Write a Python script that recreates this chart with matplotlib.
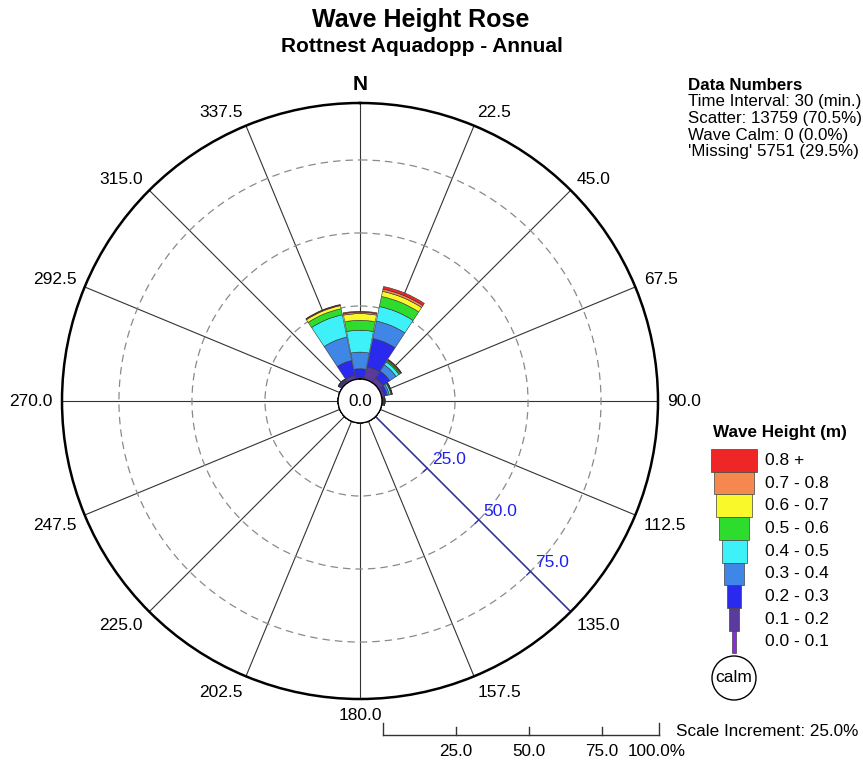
import numpy as np
import matplotlib
matplotlib.use("Agg")
import matplotlib.pyplot as plt
from matplotlib.patches import Rectangle, Circle

plt.rcParams['font.family'] = ['Liberation Sans', 'DejaVu Sans']

# directions (deg, clockwise from north) and wave height classes
directions = np.arange(0, 360, 22.5)
height_labels = ['0.0 - 0.1', '0.1 - 0.2', '0.2 - 0.3', '0.3 - 0.4', '0.4 - 0.5',
                 '0.5 - 0.6', '0.6 - 0.7', '0.7 - 0.8', '0.8 +']
height_colors = ['#8a2be2', '#5b3a9e', '#2a2aee', '#3f86e6', '#3ef0f8',
                 '#2edc2e', '#f8f82a', '#f4884e', '#ee2626']

# frequency (%) per direction for each height class
#            N   22.5  45  67.5  90 112.5 135 157.5 180 202.5 225 247.5 270 292.5 315 337.5
h00_01 = [0.1, 0.1, 0.1, 0.1, 0.1, 0, 0, 0, 0, 0, 0, 0, 0, 0, 0.1, 0.1]
h01_02 = [0.6, 4.4, 1.9, 0.9, 0.3, 0, 0, 0, 0, 0, 0, 0, 0, 0, 0.6, 1.3]
h02_03 = [2.8, 9.8, 2.8, 1.0, 0.3, 0, 0, 0, 0, 0, 0, 0, 0, 0, 0.6, 5.2]
h03_04 = [5.7, 6.1, 2.6, 0.7, 0.2, 0, 0, 0, 0, 0, 0, 0, 0, 0, 0.2, 8.2]
h04_05 = [7.5, 5.1, 1.2, 0.6, 0.1, 0, 0, 0, 0, 0, 0, 0, 0, 0, 0.0, 7.8]
h05_06 = [3.4, 3.5, 0.4, 0.2, 0.0, 0, 0, 0, 0, 0, 0, 0, 0, 0, 0.0, 2.1]
h06_07 = [2.3, 1.8, 0.3, 0.1, 0.0, 0, 0, 0, 0, 0, 0, 0, 0, 0, 0.0, 1.1]
h07_08 = [0.5, 0.8, 0.2, 0.1, 0.0, 0, 0, 0, 0, 0, 0, 0, 0, 0, 0.0, 0.2]
h08_up = [0.3, 0.9, 0.2, 0.1, 0.0, 0, 0, 0, 0, 0, 0, 0, 0, 0, 0.0, 0.2]
classes = [h00_01, h01_02, h02_03, h03_04, h04_05, h05_06, h06_07, h07_08, h08_up]

ring_values = [25, 50, 75]
r_outer = 94.5      # outer circle (labelled 100 % on the scale bar)
r_origin = -7.53    # calm circle hole
data_lines = ['Time Interval: 30 (min.)', 'Scatter: 13759 (70.5%)',
              'Wave Calm: 0 (0.0%)', "'Missing' 5751 (29.5%)"]

W, H = 863, 763
fig = plt.figure(figsize=(W / 100, H / 100), dpi=100)

# ---- rose ----
cx, cy, R = 360, 401, 298
ax = fig.add_axes([(cx - R) / W, (H - cy - R) / H, 2 * R / W, 2 * R / H], projection='polar')
ax.set_theta_zero_location('N')
ax.set_theta_direction(-1)
ax.set_ylim(0, r_outer)
ax.set_rorigin(r_origin)
ax.set_axisbelow(True)

theta = np.deg2rad(directions)
bottom = np.zeros(len(directions))
for vals, col in zip(classes, height_colors):
    vals = np.array(vals)
    ax.bar(theta, vals, width=np.deg2rad(21.8), bottom=bottom, color=col,
           edgecolor='#333333', linewidth=0.4)
    bottom += vals

ax.set_xticks(theta)
ax.set_xticklabels([])
ax.set_yticks(ring_values)
ax.set_yticklabels([])
ax.xaxis.grid(True, color='#333333', lw=0.8, ls='-')
ax.yaxis.grid(True, color='#8a8a8a', lw=0.9, ls=(0, (6, 4)))
ax.spines['polar'].set_linewidth(1.8)
ax.spines['inner'].set_linewidth(1.0)
ax.tick_params(length=0)

# direction labels
r_lab = (R + 9) / R * (r_outer - r_origin) + r_origin
for d, t in zip(directions, theta):
    if d == 0:
        ax.text(t, r_lab, 'N', ha='center', va='bottom', fontsize=15, fontweight='bold')
        continue
    ha = 'center' if d == 180 else ('left' if d < 180 else 'right')
    if d in (90, 270):
        va = 'center'
    elif d < 90 or d > 270:
        va = 'baseline'
    else:
        va = 'top'
    ax.text(t, r_lab, f'{d:.1f}', ha=ha, va=va, fontsize=12.5)

ax.text(0.5, 0.5, '0.0', transform=ax.transAxes, ha='center', va='center', fontsize=12.3)

# radial scale line at 135 deg
t135 = np.deg2rad(135)
ax.plot([t135, t135], [0, r_outer], color='#3030b0', lw=1.0)
px_per_unit = R / (r_outer - r_origin)
for rv in ring_values:
    dt = 5 / (px_per_unit * (rv - r_origin))
    ax.plot([t135, t135 + dt], [rv, rv], color='#3030b0', lw=1.0)
    ax.annotate(f'{rv:.1f}', xy=(t135, rv), xytext=(3.5, 3), textcoords='offset points',
                ha='left', va='baseline', color='#2020ee', fontsize=12.5)

# ---- titles ----
fig.text(421 / W, 1 - 20 / H, 'Wave Height Rose', ha='center', va='center',
         fontsize=18, fontweight='bold')
fig.text(422 / W, 1 - 47 / H, 'Rottnest Aquadopp - Annual', ha='center', va='center',
         fontsize=15, fontweight='bold')

# ---- data numbers ----
fig.text(688 / W, 1 - 85 / H, 'Data Numbers', ha='left', va='center',
         fontsize=12.2, fontweight='bold')
for i, line in enumerate(data_lines):
    fig.text(688 / W, 1 - (101.7 + 16.7 * i) / H, line, ha='left', va='center', fontsize=12.2)

# ---- legend ----
lx0, ly0, lx1, ly1 = 700, 420, 863, 705
lax = fig.add_axes([lx0 / W, (H - ly1) / H, (lx1 - lx0) / W, (ly1 - ly0) / H])
lax.set_xlim(lx0, lx1)
lax.set_ylim(ly1, ly0)
lax.axis('off')
lax.text(780, 433, 'Wave Height (m)', ha='center', va='center', fontsize=12.3, fontweight='bold')
box_h = 22.7
for j, (lab, col) in enumerate(zip(height_labels[::-1], height_colors[::-1])):
    w = 46 - 5.25 * j
    y0 = 449 + box_h * j
    lax.add_patch(Rectangle((734 - w / 2, y0), w, box_h, facecolor=col,
                            edgecolor='#444444', lw=0.5))
    lax.text(765, y0 + box_h / 2, lab, ha='left', va='center', fontsize=12.5)
lax.add_patch(Circle((734, 678), 22, facecolor='white', edgecolor='black', lw=1))
lax.text(734, 678, 'calm', ha='center', va='center', fontsize=12.5)

# ---- scale bar ----
sax = fig.add_axes([383 / W, 0, (r_outer * px_per_unit) / W, 63 / H])
sax.set_xlim(0, r_outer)
sax.set_ylim(763, 700)
sax.axis('off')
sax.plot([0, r_outer], [735, 735], color='#333333', lw=1, clip_on=False)
for v in [0] + ring_values + [r_outer]:
    top = 723 if v in (0, r_outer) else 727
    sax.plot([v, v], [top, 735], color='#333333', lw=1, clip_on=False)
for v in ring_values:
    sax.text(v, 752, f'{v:.1f}', ha='center', va='center', fontsize=12.3)
sax.text(r_outer - 0.7, 752, '100.0%', ha='center', va='center', fontsize=12.3)
fig.text(676 / W, 1 - 731 / H, 'Scale Increment: 25.0%', ha='left', va='center', fontsize=12.3)

fig.savefig('out.png', dpi=100, facecolor='white')
